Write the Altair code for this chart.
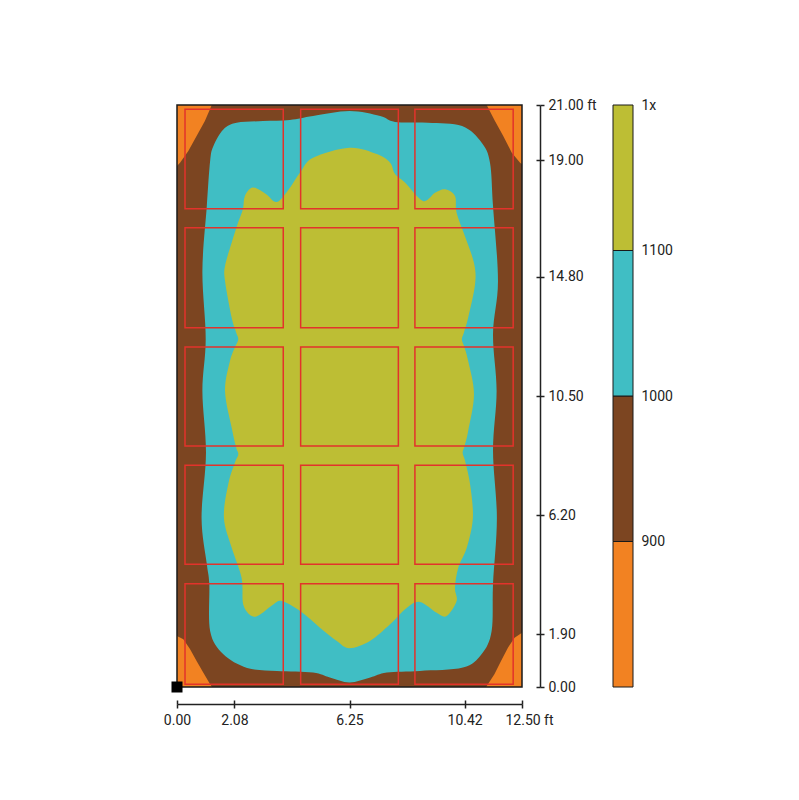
import json
import altair as alt
import pandas as pd

# ---------------- data (feet) ----------------
ROOM_W = 12.5
ROOM_L = 21.0

X_TICKS = [0, 2.08, 6.25, 10.42, 12.5]
X_LABELS = ["0.00", "2.08", "6.25", "10.42", "12.50 ft"]
Y_TICKS = [0, 1.9, 6.2, 10.5, 14.8, 19.0, 21.0]
Y_LABELS = ["0.00", "1.90", "6.20", "10.50", "14.80", "19.00", "21.00 ft"]

LEVEL_NAMES = ["<900", "900-1000", "1000-1100", ">=1100"]
LEVEL_COLORS = ["#F28222", "#7C4521", "#40BEC4", "#BDBE34"]
LEGEND_TICKS = [1, 2, 3, 4]
LEGEND_LABELS = ["900", "1000", "1100", "1x"]

# region >= 0 (whole room)
ORANGE_X = [0, 12.5, 12.5, 0]
ORANGE_Y = [0, 0, 21, 21]

# region >= 900
BROWN_X = [1.27, 11.20, 11.50, 11.74, 11.99, 12.23, 12.50, 12.50, 12.43, 12.13,
           11.82, 11.52, 11.22, 1.26, 1.01, 0.71, 0.41, 0.11, 0.00, 0.00,
           0.23, 0.47, 0.71, 0.95, 1.20]
BROWN_Y = [0.00, 0.00, 0.46, 0.94, 1.42, 1.78, 1.96, 18.86, 18.92, 19.28,
           19.88, 20.42, 21.00, 21.00, 20.42, 19.88, 19.34, 18.92, 18.80, 1.84,
           1.72, 1.37, 0.94, 0.52, 0.10]

# region >= 1000
CYAN_X = [6.25, 7.00, 7.60, 8.80, 10.36, 11.04, 11.40, 11.45, 11.59, 11.45,
          11.58, 11.45, 11.63, 11.45, 11.34, 11.04, 10.33, 9.09, 7.90, 7.36,
          6.25, 4.93, 4.09, 3.12, 2.16, 1.68, 1.32, 1.20, 1.08, 0.92,
          1.04, 0.92, 1.05, 0.89, 1.08, 1.17, 1.20, 1.67, 2.54, 3.62,
          4.93, 5.54]
CYAN_Y = [0.16, 0.34, 0.52, 0.58, 0.70, 1.19, 2.02, 3.72, 6.10, 8.52,
          10.68, 12.74, 14.65, 17.36, 18.92, 19.64, 20.24, 20.36, 20.39, 20.60,
          20.78, 20.60, 20.46, 20.42, 20.36, 20.12, 19.52, 18.98, 17.36, 15.01,
          12.56, 10.68, 8.44, 6.10, 4.44, 3.72, 2.02, 1.19, 0.69, 0.58,
          0.52, 0.34]

# region >= 1100
YELLOW_X = [6.25, 6.99, 7.72, 8.32, 8.80, 9.41, 9.77, 10.13, 10.07, 10.19,
            10.50, 10.72, 10.62, 10.44, 10.35, 10.42, 10.55, 10.76, 10.55, 10.40,
            10.32, 10.40, 10.55, 10.80, 10.76, 10.43, 10.13, 10.07, 9.71, 9.35,
            8.91, 8.26, 7.90, 7.72, 7.24, 6.25, 4.93, 4.46, 4.06, 3.62,
            3.22, 2.75, 2.46, 2.39, 2.21, 1.98, 1.74, 1.74, 1.98, 2.14,
            2.22, 2.12, 1.92, 1.74, 1.98, 2.14, 2.22, 2.10, 1.86, 1.70,
            1.98, 2.34, 2.40, 2.71, 3.01, 3.49, 3.80, 4.46, 5.18, 5.79]
YELLOW_Y = [1.40, 1.66, 2.26, 2.85, 3.07, 2.68, 2.56, 3.10, 3.58, 4.30,
            5.03, 6.11, 7.31, 8.15, 8.45, 8.70, 9.24, 10.56, 11.76, 12.30,
            12.55, 12.80, 13.33, 14.54, 15.30, 16.27, 17.11, 17.72, 17.96, 17.83,
            17.54, 18.20, 18.51, 18.92, 19.23, 19.46, 19.10, 18.56, 17.97, 17.50,
            17.79, 18.02, 17.72, 17.25, 16.75, 16.03, 15.19, 14.65, 13.33, 12.80,
            12.55, 12.30, 11.76, 10.68, 9.36, 8.65, 8.40, 8.10, 7.33, 6.11,
            5.03, 3.94, 2.98, 2.56, 2.62, 2.98, 3.10, 2.74, 2.14, 1.66]

# luminaire outlines
LUM_X0 = [0.29, 4.48, 8.62]
LUM_X1 = [3.85, 8.02, 12.18]
LUM_Y0 = [0.10, 4.43, 8.70, 12.96, 17.26]
LUM_Y1 = [3.73, 8.00, 12.27, 16.57, 20.85]

ORIGIN_X = [0]
ORIGIN_Y = [0]

# ---------------- styling ----------------
FONT = "Roboto"
TXT = "#222222"
FS = 14
W, H = 345, 582

xscale = alt.Scale(domain=[0, ROOM_W], nice=False, zero=False)
yscale = alt.Scale(domain=[0, ROOM_L], nice=False, zero=False)


def label_expr(ticks, labels):
    return "%s[indexof(%s, datum.value)]" % (json.dumps(labels), json.dumps(ticks))


x_axis_main = alt.Axis(orient="bottom", offset=17, values=X_TICKS,
                       labelExpr=label_expr(X_TICKS, X_LABELS),
                       domain=True, domainColor=TXT, domainWidth=1.5,
                       ticks=True, tickSize=4, tickColor=TXT, tickWidth=1.5,
                       grid=False, title=None, labelFont=FONT, labelFontSize=FS,
                       labelColor=TXT, labelPadding=5, labelFlush=False,
                       labelOverlap=False,
                       labelOffset={"condition": {"test": "datum.value == 12.5", "value": 7}, "value": 0})
x_axis_inner = alt.Axis(orient="bottom", offset=13, values=X_TICKS,
                        domain=False, labels=False, ticks=True, tickSize=4,
                        tickColor=TXT, tickWidth=1.5, grid=False, title=None)
y_axis_main = alt.Axis(orient="right", offset=18, values=Y_TICKS,
                       labelExpr=label_expr(Y_TICKS, Y_LABELS),
                       domain=True, domainColor=TXT, domainWidth=1.5,
                       ticks=True, tickSize=4, tickColor=TXT, tickWidth=1.5,
                       grid=False, title=None, labelFont=FONT, labelFontSize=FS,
                       labelColor=TXT, labelPadding=4, labelFlush=False,
                       labelOverlap=False)
y_axis_inner = alt.Axis(orient="right", offset=14, values=Y_TICKS,
                        domain=False, labels=False, ticks=True, tickSize=4,
                        tickColor=TXT, tickWidth=1.5, grid=False, title=None)


def region(xs, ys, color, interp):
    df = pd.DataFrame({"x": xs, "y": ys, "i": list(range(len(xs)))})
    return alt.Chart(df).mark_line(filled=True, color=color, strokeWidth=0,
                                   interpolate=interp, clip=True).encode(
        x=alt.X("x:Q", scale=xscale, axis=None),
        y=alt.Y("y:Q", scale=yscale, axis=None),
        order=alt.Order("i:Q"),
    )


orange = region(ORANGE_X, ORANGE_Y, LEVEL_COLORS[0], "linear-closed")
brown = region(BROWN_X, BROWN_Y, LEVEL_COLORS[1], "linear-closed")
cyan = region(CYAN_X, CYAN_Y, LEVEL_COLORS[2], "cardinal-closed")
yellow = region(YELLOW_X, YELLOW_Y, LEVEL_COLORS[3], "cardinal-closed")

lum_rows = []
for y0, y1 in zip(LUM_Y0, LUM_Y1):
    for x0, x1 in zip(LUM_X0, LUM_X1):
        lum_rows.append({"x0": x0, "x1": x1, "y0": y0, "y1": y1})
lum = alt.Chart(pd.DataFrame(lum_rows)).mark_rect(
    filled=False, color="#E2332B", strokeWidth=1.5, clip=True).encode(
    x=alt.X("x0:Q", scale=xscale, axis=x_axis_inner),
    x2="x1:Q",
    y=alt.Y("y0:Q", scale=yscale, axis=y_axis_inner),
    y2="y1:Q",
)

frame = alt.Chart(pd.DataFrame({"x0": [0], "x1": [ROOM_W], "y0": [0], "y1": [ROOM_L]})).mark_rect(
    filled=False, color="#1a1a1a", strokeWidth=1.5).encode(
    x=alt.X("x0:Q", scale=xscale, axis=x_axis_main),
    x2="x1:Q",
    y=alt.Y("y0:Q", scale=yscale, axis=y_axis_main),
    y2="y1:Q",
)

origin = alt.Chart(pd.DataFrame({"x": ORIGIN_X, "y": ORIGIN_Y})).mark_square(
    size=121, color="black", opacity=1, clip=False).encode(
    x=alt.X("x:Q", scale=xscale, axis=None),
    y=alt.Y("y:Q", scale=yscale, axis=None),
)

main = alt.layer(orange, brown, cyan, yellow, lum, frame, origin).resolve_axis(
    x="independent", y="independent").properties(width=W, height=H)

leg_df = pd.DataFrame({"lo": [0, 1, 2, 3], "hi": [1, 2, 3, 4], "level": LEVEL_NAMES})
legend = alt.Chart(leg_df).mark_rect(stroke="#1a1a1a", strokeWidth=1).encode(
    y=alt.Y("lo:Q", scale=alt.Scale(domain=[0, 4], nice=False, zero=False),
            axis=alt.Axis(orient="right", values=LEGEND_TICKS,
                          labelExpr=label_expr(LEGEND_TICKS, LEGEND_LABELS),
                          ticks=False, domain=False, grid=False, title=None,
                          labelPadding=8, labelFont=FONT, labelFontSize=FS,
                          labelColor=TXT, labelFlush=False, labelOverlap=False)),
    y2="hi:Q",
    color=alt.Color("level:N", scale=alt.Scale(domain=LEVEL_NAMES, range=LEVEL_COLORS),
                    legend=None),
).properties(width=20, height=H)

chart = alt.hconcat(main, legend, spacing=91, bounds="flush").properties(
    padding={"left": 154, "top": 89, "right": 5, "bottom": 5},
    background="white",
).configure_view(stroke="transparent")

chart.save("out.html", embed_options={"renderer": "svg", "actions": False})
